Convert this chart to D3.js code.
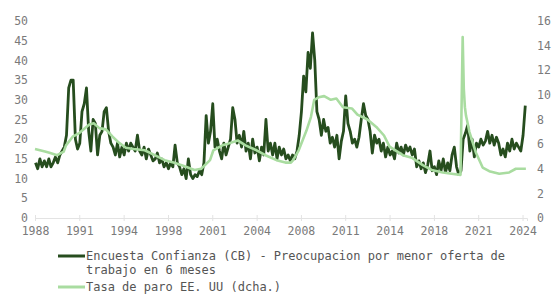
<!DOCTYPE html>
<html>
<head>
<meta charset="utf-8">
<script src="https://cdn.jsdelivr.net/npm/d3@7"></script>
<style>
  body { margin: 0; background: #fff; }
  svg text { font-family: "DejaVu Sans Mono", monospace; }
</style>
</head>
<body>
<svg id="chart" width="560" height="300"></svg>
<script>
// Encuesta Confianza (CB), one value every two months from Jan 1988
const confianza = [
  14, 12.5, 15, 13, 14.5, 13,      // 1988
  15, 13, 14, 15.5, 14, 16,        // 1989
  17, 18, 21, 33, 35, 35,          // 1990
  20, 17.5, 19, 27, 29, 33,        // 1991
  22, 17, 25, 24, 16, 21,          // 1992
  22, 27, 28, 22, 19, 18,          // 1993
  16, 19, 15.5, 18, 16, 19,        // 1994
  17, 19, 18, 17, 21, 17,          // 1995
  16, 18, 15, 17.5, 16, 14.5,      // 1996
  15, 16.5, 14, 15, 13, 14,        // 1997
  12.5, 14, 13, 18.5, 14, 13,      // 1998
  11, 12.5, 10, 15, 11, 10,        // 1999
  11, 10.5, 12, 11, 14, 26,        // 2000
  19, 22, 29, 18, 20, 17,          // 2001
  15, 19, 16, 18, 20, 28,          // 2002
  25, 19, 21, 18, 22, 17,          // 2003
  19, 15, 20, 16.5, 18, 14.5,      // 2004
  18, 16, 25, 17, 19, 16,          // 2005
  19, 15, 18, 16, 17.5, 15,        // 2006
  16, 14.5, 16, 15, 17, 21,        // 2007
  27, 36, 32, 42, 38, 47,          // 2008
  40, 27, 25, 21, 25, 22,          // 2009
  23, 19, 20.5, 18, 21, 15,        // 2010
  19.5, 22, 31, 24, 22, 19,        // 2011
  20, 18, 20.5, 25, 29, 26,        // 2012
  25, 22, 16.5, 21, 19, 20,        // 2013
  17, 19, 15.5, 18, 16, 17,        // 2014
  15, 19, 16.5, 18, 16, 18.5,      // 2015
  17, 18, 16, 17.5, 13, 14.5,      // 2016
  12.5, 14, 11.5, 13.5, 17, 12,    // 2017
  13, 11, 14.5, 12, 15, 11.5,      // 2018
  14, 12, 16, 18, 13, 11,          // 2019
  12, 20, 21.5, 23.5, 17, 20,      // 2020
  15.5, 19, 18, 20, 18.5, 19.5,    // 2021
  22, 19, 21, 18.5, 20.5, 19,      // 2022
  16, 17.5, 15.5, 19, 17, 20,      // 2023
  17.5, 19, 18, 17, 21, 28.5       // 2024
];

// Tasa de paro EE. UU (%), read at irregular dates
const paro = [
  ["1988-01", 5.6], ["1988-10", 5.4], ["1989-02", 5.3], ["1989-09", 5.1],
  ["1990-03", 5.4], ["1990-05", 5.9], ["1990-11", 6.6], ["1991-05", 6.9],
  ["1992-02", 7.6], ["1992-06", 7.7], ["1992-11", 7.3], ["1993-05", 7.2],
  ["1993-11", 6.6], ["1994-05", 6.1], ["1994-11", 5.7], ["1995-06", 5.6],
  ["1996-04", 5.5], ["1997-01", 5.1], ["1997-10", 4.7], ["1998-06", 4.5],
  ["1999-04", 4.2], ["2000-01", 3.9], ["2000-07", 4.0], ["2001-03", 4.7],
  ["2001-06", 5.5], ["2002-02", 5.9], ["2002-06", 6.0], ["2003-04", 6.3],
  ["2003-11", 5.9], ["2004-09", 5.5], ["2005-05", 5.1], ["2006-03", 4.7],
  ["2006-11", 4.5], ["2007-04", 4.5], ["2007-06", 4.7], ["2007-11", 5.5],
  ["2008-06", 7.1], ["2008-10", 8.2], ["2009-01", 9.6], ["2009-05", 9.8],
  ["2009-10", 9.9], ["2010-04", 9.6], ["2010-09", 9.7], ["2011-03", 9.0],
  ["2011-11", 8.9], ["2012-04", 8.4], ["2013-01", 8.0], ["2013-09", 7.4],
  ["2014-04", 6.7], ["2014-09", 5.8], ["2015-09", 5.1], ["2016-05", 4.9],
  ["2017-03", 4.3], ["2017-11", 3.9], ["2018-09", 3.7], ["2019-05", 3.6],
  ["2020-01", 3.5], ["2020-03", 14.7], ["2020-04", 10.5], ["2020-05", 9.0],
  ["2020-06", 8.3], ["2020-07", 7.9], ["2020-09", 7.0], ["2021-03", 5.3],
  ["2021-09", 4.1], ["2022-03", 3.8], ["2022-12", 3.6], ["2023-09", 3.7],
  ["2024-03", 4.0], ["2024-09", 4.0], ["2024-12", 4.0]
];

const xTickDates = ["1988-01", "1991-05", "1994-09", "1998-01", "2001-05", "2004-09",
                    "2008-01", "2011-05", "2014-09", "2018-01", "2021-05", "2024-09"];
const xTickLabels = ["1988", "1991", "1994", "1998", "2001", "2004",
                     "2008", "2011", "2014", "2018", "2021", "2024"];
const leftTicks = [0, 5, 10, 15, 20, 25, 30, 35, 40, 45, 50];
const rightTicks = [0, 2, 4, 6, 8, 10, 12, 14, 16];

const darkGreen = '#264d1e';
const lightGreen = '#a9dca0';
const labelColor = '#7a7a7a';

const parseMonth = d3.timeParse('%Y-%m');
const svg = d3.select('#chart');

const x = d3.scaleTime()
  .domain([new Date(1988, 0, 1), new Date(2025, 0, 1)])
  .range([35, 527]);
const yL = d3.scaleLinear().domain([0, 50]).range([218, 21]);
const yR = d3.scaleLinear().domain([0, 16]).range([218, 21]);

const darkData = confianza.map((v, i) => ({ date: new Date(1988, i * 2, 15), value: v }));
const lightData = paro.map(d => ({ date: parseMonth(d[0]), value: d[1] }));

// bottom axis
const xAxis = d3.axisBottom(x)
  .tickValues(xTickDates.map(parseMonth))
  .tickFormat((d, i) => xTickLabels[i])
  .tickSize(3)
  .tickPadding(6);
const gx = svg.append('g')
  .attr('transform', 'translate(0,218)')
  .call(xAxis);
gx.select('.domain').attr('stroke', '#e3e3e3');
gx.selectAll('.tick line').attr('stroke', '#e3e3e3').attr('y1', -3);
gx.selectAll('.tick text').attr('fill', labelColor).style('font-size', '11.5px');

// left axis
const gl = svg.append('g')
  .attr('transform', 'translate(28,0)')
  .call(d3.axisLeft(yL).tickValues(leftTicks).tickSize(0).tickPadding(0));
gl.select('.domain').remove();
gl.selectAll('.tick text').attr('fill', labelColor).style('font-size', '11.5px');

// right axis
const gr = svg.append('g')
  .attr('transform', 'translate(537,0)')
  .call(d3.axisRight(yR).tickValues(rightTicks).tickSize(0).tickPadding(0));
gr.select('.domain').remove();
gr.selectAll('.tick text').attr('fill', labelColor).style('font-size', '11.5px');

// lines
const darkLine = d3.line().x(d => x(d.date)).y(d => yL(d.value));
const lightLine = d3.line().x(d => x(d.date)).y(d => yR(d.value));

svg.append('path')
  .datum(darkData)
  .attr('d', darkLine)
  .attr('fill', 'none')
  .attr('stroke', darkGreen)
  .attr('stroke-width', 2.8)
  .attr('stroke-linejoin', 'round');

svg.append('path')
  .datum(lightData)
  .attr('d', lightLine)
  .attr('fill', 'none')
  .attr('stroke', lightGreen)
  .attr('stroke-width', 2.6)
  .attr('stroke-linejoin', 'round');

// legend
const legend = svg.append('g').style('font-size', '12px').attr('fill', '#555');

legend.append('line')
  .attr('x1', 58).attr('x2', 85).attr('y1', 256).attr('y2', 256)
  .attr('stroke', darkGreen).attr('stroke-width', 3);
legend.append('text').attr('x', 86).attr('y', 260)
  .text('Encuesta Confianza (CB) - Preocupacion por menor oferta de');
legend.append('text').attr('x', 86).attr('y', 274)
  .text('trabajo en 6 meses');

legend.append('line')
  .attr('x1', 58).attr('x2', 85).attr('y1', 287).attr('y2', 287)
  .attr('stroke', lightGreen).attr('stroke-width', 3);
legend.append('text').attr('x', 86).attr('y', 291)
  .text('Tasa de paro EE. UU (dcha.)');
</script>
</body>
</html>
